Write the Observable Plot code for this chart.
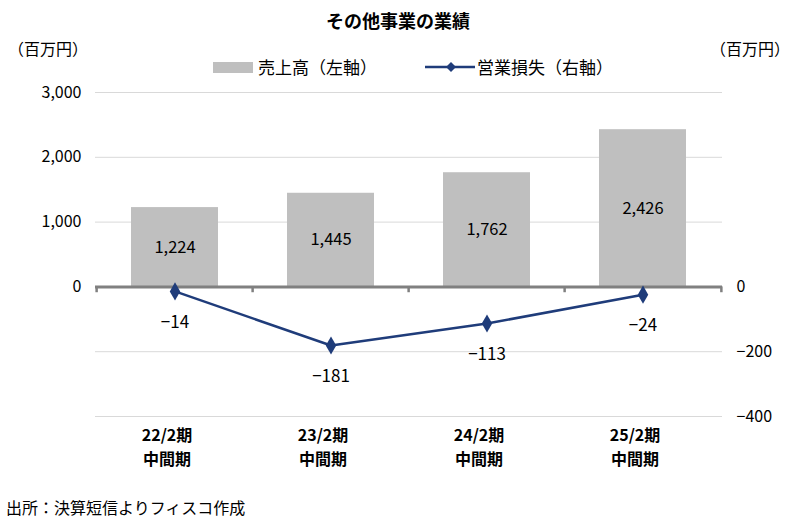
<!DOCTYPE html>
<html>
<head>
<meta charset="utf-8">
<script src="https://cdn.jsdelivr.net/npm/d3@7"></script>
<script src="https://cdn.jsdelivr.net/npm/@observablehq/plot@0.6"></script>
<style>
  html, body { margin: 0; padding: 0; background: #fff; }
  #wrap { position: relative; width: 796px; height: 528px; font-family: "Noto Sans CJK JP", sans-serif; color: #000; overflow: hidden; }
  .abs { position: absolute; white-space: nowrap; }
  #title { left: 0; width: 796px; top: 8px; text-align: center; font-size: 18px; font-weight: bold; line-height: 24px; }
  .unit { top: 37px; font-size: 16px; line-height: 22px; }
  #unitL { left: 8px; }
  #unitR { left: 710px; }
  .leg { top: 56px; font-size: 17px; line-height: 22px; display: flex; align-items: center; }
  #chart { position: absolute; left: 0; top: 80px; }
  #caption { left: 6px; top: 497px; font-size: 16px; line-height: 20px; }
</style>
</head>
<body>
<div id="wrap">
  <div id="title" class="abs">その他事業の業績</div>
  <div id="unitL" class="abs unit">（百万円）</div>
  <div id="unitR" class="abs unit">（百万円）</div>
  <div class="abs leg" style="left:213px;"><span style="display:inline-block;width:40px;height:11px;background:#BFBFBF;margin-right:5px;"></span>売上高（左軸）</div>
  <div class="abs leg" style="left:425px;"><svg width="50" height="12" style="margin-right:2px;"><line x1="0" y1="6" x2="50" y2="6" stroke="#1F3C7A" stroke-width="2.5"/><path d="M26,1 L31,6 L26,11 L21,6 Z" fill="#1F3C7A"/></svg>営業損失（右軸）</div>
  <div id="chart"></div>
  <div id="caption" class="abs">出所：決算短信よりフィスコ作成</div>
</div>
<script>
// Data
const periods = ["22/2期", "23/2期", "24/2期", "25/2期"];
const periodSub = ["中間期", "中間期", "中間期", "中間期"];
const sales = [1224, 1445, 1762, 2426];          // 売上高（左軸）
const loss = [-14, -181, -113, -24];             // 営業損失（右軸）
const leftTicks = [0, 1000, 2000, 3000];
const rightTicks = [0, -200, -400];
const gridTicks = [-2000, -1000, 0, 1000, 2000, 3000];
const axisRatio = 5; // left units per right unit

const rows = periods.map((p, i) => ({period: p, sub: periodSub[i], sales: sales[i], loss: loss[i]}));

const W = 796, H = 400, mL = 95, mR = 74, mT = 12, mB = 64;
const step = (W - mL - mR) / periods.length;
const navy = "#1F3C7A";
const fmt = d3.format(",");

const chart = Plot.plot({
  width: W, height: H,
  marginLeft: mL, marginRight: mR, marginTop: mT, marginBottom: mB,
  style: {fontFamily: "'Noto Sans CJK JP', sans-serif", fontSize: "16px", color: "#000", background: "#fff"},
  x: {domain: periods, paddingInner: 0.44, paddingOuter: 0.22, axis: null},
  y: {domain: [-2000, 3000], axis: null},
  marks: [
    Plot.gridY(gridTicks, {stroke: "#D9D9D9", strokeOpacity: 1, strokeWidth: 1}),
    Plot.axisY(leftTicks, {anchor: "left", tickSize: 0, tickPadding: 14, tickFormat: fmt, fontSize: 16, label: null}),
    Plot.axisY(rightTicks.map(d => d * axisRatio), {anchor: "right", tickSize: 0, tickPadding: 14, tickFormat: d => d3.format(",")(d / axisRatio), fontSize: 16, label: null}),
    Plot.barY(rows, {x: "period", y: "sales", fill: "#BFBFBF"}),
    Plot.text(rows, {x: "period", y: d => d.sales / 2, text: d => fmt(d.sales), fontSize: 16.5}),
    Plot.ruleY([0], {stroke: "#808080", strokeWidth: 3}),
    Plot.ruleX(periods, {x: d => d, y1: 0, y2: -90, stroke: "#808080", strokeWidth: 2.5, dx: -step / 2}),
    Plot.ruleX(periods.slice(-1), {x: d => d, y1: 0, y2: -90, stroke: "#808080", strokeWidth: 2.5, dx: step / 2}),
    Plot.line(rows, {x: "period", y: d => d.loss * axisRatio, stroke: navy, strokeWidth: 2.5}),
    Plot.dot(rows, {x: "period", y: d => d.loss * axisRatio, symbol: "diamond", r: 5.5, fill: navy, stroke: null}),
    Plot.text(rows, {x: "period", y: d => d.loss * axisRatio, text: d => d3.format(",")(d.loss), dy: 31, fontSize: 17}),
    Plot.text(rows, {x: "period", frameAnchor: "bottom", text: "period", dy: 24, dx: -8, fontSize: 16, fontWeight: "bold"}),
    Plot.text(rows, {x: "period", frameAnchor: "bottom", text: "sub", dy: 48, dx: -8, fontSize: 16, fontWeight: "bold"})
  ]
});
document.getElementById("chart").appendChild(chart);
</script>
</body>
</html>
